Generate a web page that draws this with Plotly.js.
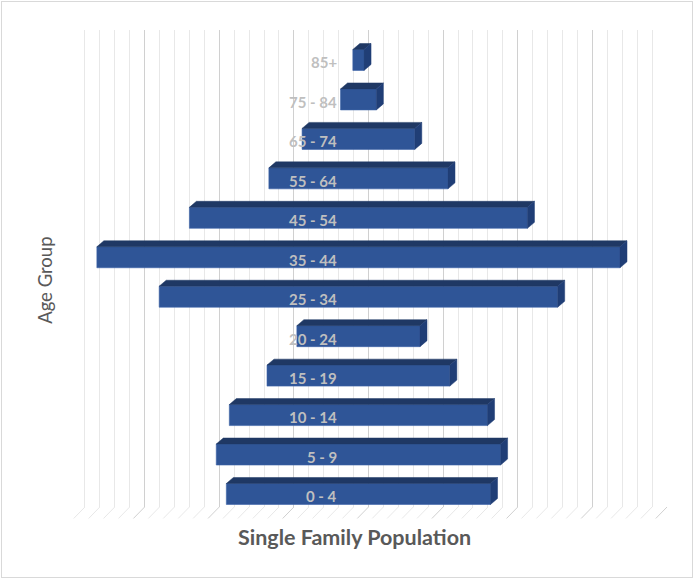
<!DOCTYPE html>
<html>
<head>
<meta charset="utf-8">
<script src="https://cdn.plot.ly/plotly-3.0.1.min.js"></script>
<style>
  html, body { margin: 0; padding: 0; background: #fff; }
  #wrap { position: relative; width: 694px; height: 581px; }
  #chart { width: 694px; height: 581px; }
  #frame { position: absolute; left: 1px; top: 1px; width: 690px; height: 575px;
           border: 1px solid #d9d9d9; pointer-events: none; }
</style>
</head>
<body>
<div id="wrap"><div id="chart"></div><div id="frame"></div></div>
<script>
// ---- data ----
const ageGroups = ["0 - 4", "5 - 9", "10 - 14", "15 - 19", "20 - 24", "25 - 34",
                   "35 - 44", "45 - 54", "55 - 64", "65 - 74", "75 - 84", "85+"];
const population = [3540, 3810, 3460, 2450, 1650, 5340, 7010, 4530, 2400, 1510, 480, 150];

// ---- styling / geometry constants ----
const CENTER = 3865;      // horizontal centre of the funnel (axis units)
const BAR_W = 0.532;      // bar thickness (category units)
const DEPTH_X = 94;       // 3D depth, x units
const DEPTH_Y = 0.152;    // 3D depth, y units
const LABEL_X = 3600;     // where the category labels end
const FRONT = '#2f5597', TOP = '#1f3864', SIDE = '#203e76';

const idx = ageGroups.map((_, i) => i);
const lefts = population.map(v => CENTER - v / 2);
const rights = population.map(v => CENTER + v / 2);

const topX = [], topY = [], sideX = [], sideY = [];
idx.forEach(i => {
  const L = lefts[i], R = rights[i];
  const yt = i + BAR_W / 2, yb = i - BAR_W / 2;
  topX.push(L, L + DEPTH_X, R + DEPTH_X, R, L, null);
  topY.push(yt, yt + DEPTH_Y, yt + DEPTH_Y, yt, yt, null);
  sideX.push(R, R + DEPTH_X, R + DEPTH_X, R, R, null);
  sideY.push(yt, yt + DEPTH_Y, yb + DEPTH_Y, yb, yt, null);
});

const traces = [
  { type: 'bar', orientation: 'h', y: idx, x: population, base: lefts,
    width: BAR_W, marker: { color: FRONT, line: { color: '#3d63a8', width: 0.6 } },
    hoverinfo: 'skip', showlegend: false },
  { type: 'scatter', mode: 'lines', x: topX, y: topY, fill: 'toself',
    fillcolor: TOP, line: { color: TOP, width: 0.5 }, hoverinfo: 'skip', showlegend: false },
  { type: 'scatter', mode: 'lines', x: sideX, y: sideY, fill: 'toself',
    fillcolor: SIDE, line: { color: SIDE, width: 0.5 }, hoverinfo: 'skip', showlegend: false }
];

// floor gridline slants
const shapes = [];
for (let g = 0; g <= 8000; g += 200) {
  const major = g % 1000 === 0;
  shapes.push({ type: 'line', xref: 'x', yref: 'paper', layer: 'below',
    x0: g, y0: 0, x1: g - 150, y1: -0.024,
    line: { color: major ? '#d0d0d0' : '#e8e8e8', width: 1 } });
}

const FONT = 'Lato, "Open Sans", sans-serif';
const annotations = idx.map(i => ({
  xref: 'x', yref: 'y', x: LABEL_X, y: i - 0.06, xanchor: 'right', yanchor: 'middle',
  text: ageGroups[i], showarrow: false,
  font: { family: FONT, size: 15, color: '#bfbfbf', weight: 'bold' }
}));
annotations.push({
  xref: 'paper', yref: 'paper', x: 0.477, y: -0.063, xanchor: 'center', yanchor: 'middle',
  text: 'Single Family Population', showarrow: false,
  font: { family: FONT, size: 21.5, color: '#595959', weight: 'bold' }
});
annotations.push({
  xref: 'paper', yref: 'paper', x: -0.042, y: 0.476, xanchor: 'center', yanchor: 'middle',
  text: 'Age Group', textangle: -90, showarrow: false,
  font: { family: FONT, size: 18.5, color: '#595959' }
});

const layout = {
  width: 694, height: 581,
  margin: { l: 70, r: 27, t: 30, b: 74 },
  paper_bgcolor: '#ffffff', plot_bgcolor: '#ffffff',
  barmode: 'overlay',
  xaxis: { range: [0, 8000], dtick: 1000, tick0: 0, showgrid: true, gridcolor: '#d0d0d0',
           gridwidth: 1, zeroline: false, showticklabels: false, ticks: '', showline: false,
           minor: { dtick: 200, showgrid: true, gridcolor: '#e8e8e8', gridwidth: 1 },
           fixedrange: true },
  yaxis: { range: [-0.33, 11.76], showgrid: false, zeroline: false, showticklabels: false,
           ticks: '', showline: false, fixedrange: true },
  shapes: shapes,
  annotations: annotations,
  showlegend: false
};

Plotly.newPlot('chart', traces, layout, { displayModeBar: false, staticPlot: true });
</script>
</body>
</html>
